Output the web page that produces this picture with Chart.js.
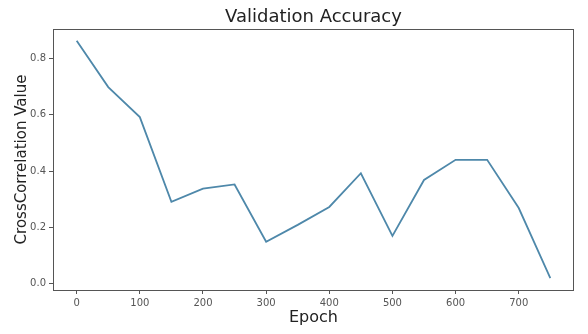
<!DOCTYPE html>
<html>
<head>
<meta charset="utf-8">
<script src="https://cdn.jsdelivr.net/npm/chart.js@4"></script>
<style>
  html, body { margin: 0; padding: 0; background: #fff; }
  #wrap { width: 588px; height: 334px; }
</style>
</head>
<body>
<div id="wrap"><canvas id="myChart" width="588" height="334"></canvas></div>
<script>
// data
const epochs = [0, 50, 100, 150, 200, 250, 300, 350, 400, 450, 500, 550, 600, 650, 700, 750];
const values = [0.864, 0.699, 0.592, 0.290, 0.337, 0.352, 0.148, 0.208, 0.272, 0.392, 0.169, 0.368, 0.440, 0.440, 0.268, 0.018];
const xTicks = [0, 100, 200, 300, 400, 500, 600, 700];
const yTicks = [0.0, 0.2, 0.4, 0.6, 0.8];

const FONT = "'DejaVu Sans', sans-serif";

// frame around the plot area (like matplotlib spines)
const framePlugin = {
  id: "frame",
  afterDraw(chart) {
    const { ctx, chartArea: a } = chart;
    ctx.save();
    ctx.strokeStyle = "#555";
    ctx.lineWidth = 1;
    ctx.strokeRect(a.left + 0.5, a.top + 0.5, a.right - a.left - 1, a.bottom - a.top);
    ctx.restore();
  }
};

const data = {
  datasets: [{
    label: "val",
    data: epochs.map((e, i) => ({ x: e, y: values[i] })),
    borderColor: "rgb(78, 136, 170)",
    borderWidth: 1.8,
    pointRadius: 0,
    tension: 0,
    fill: false
  }]
};

const config = {
  type: "line",
  data: data,
  options: {
    responsive: false,
    animation: false,
    layout: { padding: { left: 0, right: 14, top: 0, bottom: 0 } },
    plugins: {
      legend: { display: false },
      tooltip: { enabled: false },
      title: {
        display: true,
        text: "Validation Accuracy",
        fullSize: false,
        color: "#222",
        font: { family: FONT, size: 18, weight: "normal", lineHeight: 1.1 },
        padding: { top: 7.1, bottom: 2.1 }
      }
    },
    scales: {
      x: {
        type: "linear",
        min: -37.5,
        max: 787.5,
        afterBuildTicks: (s) => { s.ticks = xTicks.map(v => ({ value: v })); },
        afterFit: (s) => { s.height = 44; },
        grid: { drawOnChartArea: false, drawTicks: true, tickLength: 4, color: "#555" },
        border: { display: false },
        ticks: { color: "#555", font: { family: FONT, size: 10 }, padding: 3, maxRotation: 0 },
        title: {
          display: true,
          text: "Epoch",
          color: "#222",
          font: { family: FONT, size: 16 },
          padding: { top: 0, bottom: 6.4 }
        }
      },
      y: {
        type: "linear",
        min: -0.024,
        max: 0.906,
        afterBuildTicks: (s) => { s.ticks = yTicks.map(v => ({ value: v })); },
        afterFit: (s) => { s.width = 53; },
        grid: { drawOnChartArea: false, drawTicks: true, tickLength: 4, color: "#555" },
        border: { display: false },
        ticks: {
          color: "#555",
          font: { family: FONT, size: 10 },
          padding: 3,
          callback: (v) => v.toFixed(1)
        },
        title: {
          display: true,
          text: "CrossCorrelation Value",
          color: "#222",
          font: { family: FONT, size: 15 },
          padding: { top: 13, bottom: 0 }
        }
      }
    }
  },
  plugins: [framePlugin]
};

const myChart = new Chart(document.getElementById("myChart"), config);
</script>
</body>
</html>
